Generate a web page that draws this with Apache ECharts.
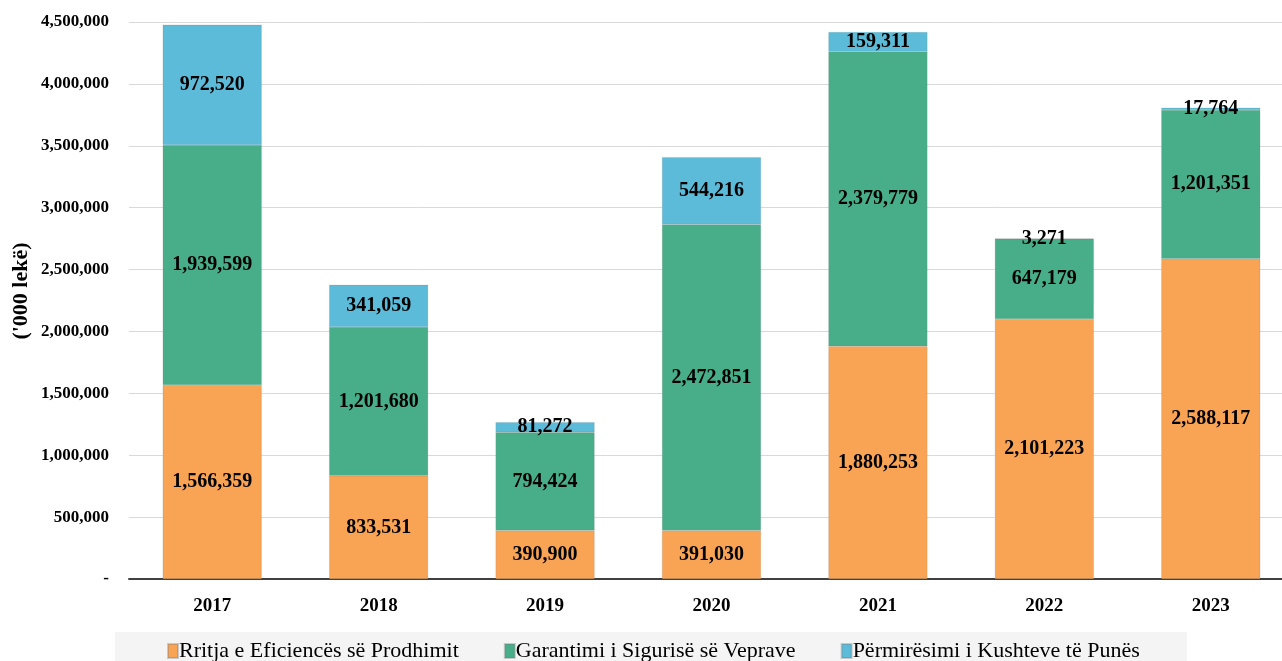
<!DOCTYPE html>
<html>
<head>
<meta charset="utf-8">
<script src="https://cdn.jsdelivr.net/npm/echarts@6/dist/echarts.min.js"></script>
<style>
  html, body { margin: 0; padding: 0; background: #fff; }
  #chart { width: 1282px; height: 661px; }
</style>
</head>
<body>
<div id="chart"></div>
<script>
const years = ['2017', '2018', '2019', '2020', '2021', '2022', '2023']
const efficiency = [1566359, 833531, 390900, 391030, 1880253, 2101223, 2588117]
const safety = [1939599, 1201680, 794424, 2472851, 2379779, 647179, 1201351]
const workConditions = [972520, 341059, 81272, 544216, 159311, 3271, 17764]
const seriesNames = ['Rritja e Eficiencës së Prodhimit', 'Garantimi i Sigurisë së Veprave', 'Përmirësimi i Kushteve të Punës']
const colors = ['#F9A354', '#48AE8A', '#5BBBD8']

const fmt = v => v.toLocaleString('en-US')
const serif = '"Liberation Serif", "Times New Roman", serif'

function makeSeries(name, data, color) {
  return {
    name: name,
    type: 'bar',
    stack: 'total',
    barWidth: 99,
    data: data,
    itemStyle: {
      color: color,
      borderColor: 'rgba(120,120,120,0.35)',
      borderWidth: 0.5
    },
    label: {
      show: true,
      position: 'inside',
      formatter: p => fmt(p.value),
      color: '#000',
      fontFamily: serif,
      fontWeight: 'bold',
      fontSize: 20
    }
  }
}

const chart = echarts.init(document.getElementById('chart'))
chart.setOption({
  animation: false,
  color: colors,
  grid: { left: 129, top: 22, width: 1165, bottom: 82, outerBoundsMode: 'none', containLabel: false },
  graphic: [{
    type: 'rect',
    shape: { x: 115, y: 632, width: 1072, height: 29 },
    style: { fill: '#f4f4f4' },
    z: -1
  }, {
    type: 'text',
    x: 21,
    y: 291,
    rotation: Math.PI / 2,
    style: {
      text: "('000 lekë)",
      font: 'bold 22px ' + serif,
      fill: '#000',
      align: 'center',
      verticalAlign: 'middle'
    }
  }],
  legend: {
    data: seriesNames,
    left: 162,
    top: 635,
    icon: 'rect',
    itemWidth: 10,
    itemHeight: 14,
    itemGap: 45,
    textStyle: { fontFamily: serif, fontSize: 22, color: '#000', padding: [0, 0, 0, -4] }
  },
  xAxis: {
    type: 'category',
    data: years,
    axisTick: { show: false },
    axisLine: { lineStyle: { color: '#404040', width: 2 } },
    axisLabel: {
      color: '#000',
      fontFamily: serif,
      fontWeight: 'bold',
      fontSize: 19,
      margin: 18
    }
  },
  yAxis: {
    type: 'value',
    min: 0,
    max: 4500000,
    interval: 500000,
    axisLine: { show: false },
    axisTick: { show: false },
    splitLine: { lineStyle: { color: '#d9d9d9' } },
    axisLabel: {
      formatter: v => (v === 0 ? '-' : fmt(v)),
      color: '#000',
      fontFamily: serif,
      fontWeight: 'bold',
      fontSize: 17,
      margin: 20
    }
  },
  series: [
    makeSeries(seriesNames[0], efficiency, colors[0]),
    makeSeries(seriesNames[1], safety, colors[1]),
    makeSeries(seriesNames[2], workConditions, colors[2])
  ]
})
</script>
</body>
</html>
